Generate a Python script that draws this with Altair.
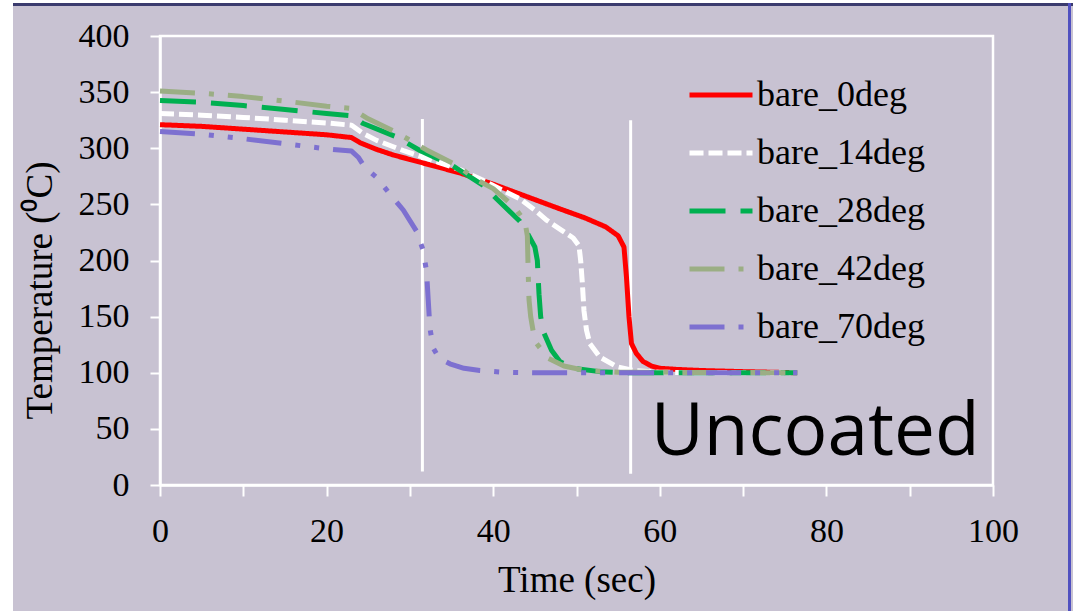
import altair as alt
import pandas as pd

# Cooling curves of the uncoated (bare) sample at five inclination angles
series_names = ["bare_0deg", "bare_14deg", "bare_28deg", "bare_42deg", "bare_70deg"]
series_colors = ["#ff0000", "#ffffff", "#00b050", "#9bae84", "#7d70d0"]
series_dashes = [[1, 0], [14, 5], [36, 15], [35, 14, 5, 14], [35, 14, 5, 14, 5, 14]]

time_0 = [0, 5, 10, 15, 20, 23, 24, 26, 28, 30, 32, 34, 36, 40, 44, 48, 51, 53.5, 55, 55.7,
          56, 56.3, 56.6, 57.2, 58, 59, 60, 62, 65, 70, 76.5]
temp_0 = [321, 319.5, 317, 314.5, 312, 309.5, 305, 299, 294, 290, 286, 282, 278, 268, 257, 246,
          238, 230, 222, 212, 185, 150, 126, 117, 110, 106, 104, 103, 102, 101, 100]

time_14 = [0, 5, 10, 15, 20, 23, 24.4, 26, 29.2, 32, 33.6, 36, 39.2, 41, 43.2, 45, 46.4, 48,
           49.6, 50.3, 50.5, 50.7, 50.9, 51.2, 51.6, 52.8, 54.8, 56.8, 60, 65, 76.5]
temp_14 = [331, 329.5, 327.5, 325, 322.5, 320.5, 313, 307, 298, 291, 287, 281, 270, 263, 255,
           245, 236, 228, 220, 213, 200, 180, 155, 138, 126, 114, 105.5, 102, 100.5, 100, 100]

time_28 = [0, 5, 10, 15, 20, 23, 24.4, 28.4, 31.2, 35, 38.8, 40.4, 43.2, 44.2, 45, 45.3, 45.5,
           45.7, 46, 47, 48, 49.6, 52.8, 56, 76.5]
temp_28 = [342.5, 341, 338, 334.5, 331, 329, 322, 310, 298, 285, 267, 255, 235, 223, 212, 200,
           170, 150, 137, 120, 110, 104, 101, 100, 100]

time_42 = [0, 5, 10, 15, 20, 23, 24.8, 28.4, 32, 35.6, 38, 40, 42.5, 43.8, 44.1, 44.2, 44.3,
           44.5, 45, 46.6, 48.5, 51, 55, 76.5]
temp_42 = [351, 349, 346, 342, 337.5, 335.5, 327, 314, 298.5, 285, 272, 264, 248, 235, 222,
           190, 165, 150, 128, 113, 106, 102, 100.5, 100]

time_70 = [0, 5, 10, 15, 20, 23, 23.8, 24.6, 26, 27.4, 29.2, 30.8, 31.6, 32, 32.2, 32.4, 32.8,
           33.5, 34.8, 36.5, 38.4, 41, 45, 76.5]
temp_70 = [315, 312.5, 308.5, 304, 299.5, 297.5, 292, 283, 274, 261, 245, 226, 209, 190, 165,
           140, 122, 113, 108, 104, 102, 100.5, 100, 100]

# Vertical marker lines (time, bottom temperature, top temperature)
marker_time = [31.5, 56.5]
marker_low = [12, 10]
marker_high = [326, 325]

# Panel label
label_text = ["Uncoated"]
label_time = [58.9]
label_temp = [27]

x_ticks = list(range(0, 101, 10))
y_ticks = list(range(0, 401, 25))

BG = "#c8c2d2"
SERIF = "Liberation Serif"

rows = []
for name, ts, vs in zip(series_names,
                        [time_0, time_14, time_28, time_42, time_70],
                        [temp_0, temp_14, temp_28, temp_42, temp_70]):
    for i, (t, v) in enumerate(zip(ts, vs)):
        rows.append({"series": name, "order": i, "time": t, "temp": v})
curves = pd.DataFrame(rows)

markers = pd.DataFrame({"time": marker_time, "low": marker_low, "high": marker_high})
label_df = pd.DataFrame({"text": label_text, "time": label_time, "temp": label_temp})

x_scale = alt.Scale(domain=[0, 100], nice=False, zero=False)
y_scale = alt.Scale(domain=[0, 400], nice=False)

x_axis = alt.Axis(
    title="Time (sec)", values=x_ticks,
    labelExpr="datum.value % 20 == 0 ? datum.label : ''",
    grid=False, tickSize=11, labelPadding=18, labelFlush=False,
    titleY=106, titleBaseline="alphabetic",
)
y_axis = alt.Axis(
    title="Temperature (\u2070C)", values=y_ticks,
    labelExpr="datum.value % 50 == 0 ? datum.label : ''",
    grid=False, tickSize=10, labelPadding=21, labelFlush=False,
    titleAngle=270, titleX=-120, titleY=254, titleBaseline="middle", titleAlign="center",
)

lines = alt.Chart(curves).mark_line(strokeWidth=5, strokeJoin="round").encode(
    x=alt.X("time:Q", scale=x_scale, axis=x_axis),
    y=alt.Y("temp:Q", scale=y_scale, axis=y_axis),
    color=alt.Color(
        "series:N",
        scale=alt.Scale(domain=series_names, range=series_colors),
        legend=alt.Legend(
            orient="none", legendX=527, legendY=25, title=None,
            symbolType="stroke", symbolSize=3969, symbolStrokeWidth=5,
            labelFont=SERIF, labelFontSize=36, labelColor="#000000",
            labelOffset=2, rowPadding=6, labelLimit=400,
        ),
    ),
    strokeDash=alt.StrokeDash(
        "series:N",
        scale=alt.Scale(domain=series_names, range=series_dashes),
        legend=None,
    ),
    order="order:Q",
)

rules = alt.Chart(markers).mark_rule(color="white", strokeWidth=3).encode(
    x="time:Q", y="low:Q", y2="high:Q"
)

label = alt.Chart(label_df).mark_text(
    font="Open Sans", fontSize=73, color="#000000", align="left", baseline="alphabetic"
).encode(x="time:Q", y="temp:Q", text="text:N")

# Page frame: white strip on the left, dark band on top, blue edge on the right
frame_df = pd.DataFrame({"k": [0]})
left_strip = alt.Chart(frame_df).mark_rect(color="white").encode(
    x=alt.value(-160), x2=alt.value(-147), y=alt.value(-36), y2=alt.value(575)
)
top_band = alt.Chart(frame_df).mark_rect(color="#3b3b6e").encode(
    x=alt.value(-147), x2=alt.value(913), y=alt.value(-33), y2=alt.value(-30)
)
top_white = alt.Chart(frame_df).mark_rect(color="white").encode(
    x=alt.value(-160), x2=alt.value(913), y=alt.value(-36), y2=alt.value(-33)
)
right_edge = alt.Chart(frame_df).mark_rect(color="#5050c0").encode(
    x=alt.value(908), x2=alt.value(911), y=alt.value(-33), y2=alt.value(575)
)

chart = alt.layer(
    left_strip, top_white, top_band, right_edge, rules, lines, label
).resolve_scale(
    color="independent", strokeDash="independent"
).properties(
    width=833, height=449,
    autosize=alt.AutoSizeParams(type="none"),
    padding={"left": 160, "top": 36, "right": 80, "bottom": 126},
    background=BG,
).configure_view(
    stroke="white", strokeWidth=2.5
).configure_axis(
    domainColor="white", domainWidth=2.5, tickColor="white", tickWidth=2,
    labelFont=SERIF, labelFontSize=34, labelColor="#000000",
    titleFont=SERIF, titleFontSize=37, titleFontWeight="normal", titleColor="#000000",
)

chart.save("out.html", embed_options={"renderer": "svg", "actions": False})
